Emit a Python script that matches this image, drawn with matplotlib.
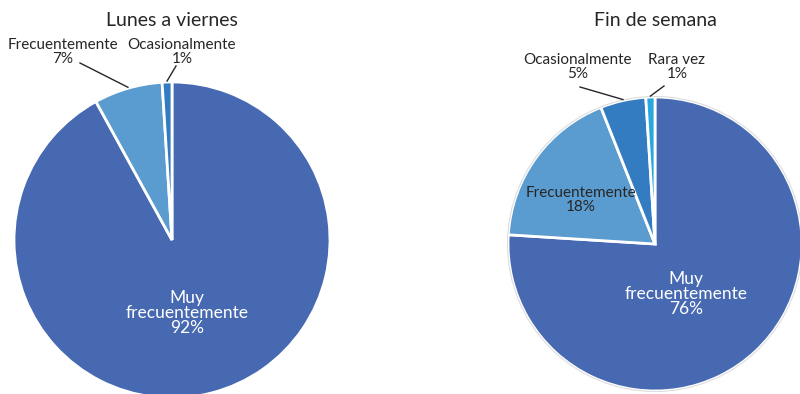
import numpy as np
import matplotlib.pyplot as plt
from matplotlib.patches import Circle

plt.rcParams['font.family'] = ['Lato', 'DejaVu Sans']

# Frecuencia de uso
lv_cats = ['Muy\nfrecuentemente', 'Frecuentemente', 'Ocasionalmente']
lv_vals = [92, 7, 1]
fs_cats = ['Muy\nfrecuentemente', 'Frecuentemente', 'Ocasionalmente', 'Rara vez']
fs_vals = [76, 18, 5, 1]

colores = ['#4769b1', '#5a9bd0', '#347cc2', '#2aa7df']

W, H = 800, 394
fig = plt.figure(figsize=(W / 100, H / 100), dpi=100)
ax = fig.add_axes([0, 0, 1, 1])
ax.set_xlim(0, W)
ax.set_ylim(0, H)
ax.set_aspect('equal')
ax.axis('off')


def tarta(vals, cx, cy, r):
    cy = H - cy
    wedges, _ = ax.pie(vals, center=(cx, cy), radius=r, startangle=90,
                       counterclock=False, colors=colores[:len(vals)],
                       wedgeprops=dict(edgecolor='white', linewidth=2),
                       frame=True)
    return wedges


def borde(w, cx, cy, r):
    # punto medio del arco exterior del sector
    ang = np.deg2rad((w.theta1 + w.theta2) / 2)
    return cx + r * np.cos(ang), (H - cy) + r * np.sin(ang)


def etiqueta(txt, x, y, color='#262626', size=11):
    ax.text(x, H - y, txt, ha='center', va='center', color=color,
            fontsize=size, linespacing=0.92)


# Lunes a viernes
cx1, cy1, r1 = 172, 240, 158
w1 = tarta(lv_vals, cx1, cy1, r1)
etiqueta('Lunes a viernes', cx1, 20, size=14)
etiqueta(f'{lv_cats[0]}\n{lv_vals[0]}%', 187, 313, color='white', size=12.5)
etiqueta(f'{lv_cats[1]}\n{lv_vals[1]}%', 63, 52)
etiqueta(f'{lv_cats[2]}\n{lv_vals[2]}%', 182, 52)
for w, (lx, ly) in zip(w1[1:], [(80, 63), (176, 66)]):
    px, py = borde(w, cx1, cy1, r1 * 1.0)
    ax.plot([lx, px], [H - ly, py + 1], color='#262626', lw=1)

# Fin de semana
cx2, cy2, r2 = 655, 244, 147
w2 = tarta(fs_vals, cx2, cy2, r2)
ax.add_patch(Circle((cx2, H - cy2), r2 + 0.5, fill=False, ec='#dddddd', lw=0.8))
etiqueta('Fin de semana', cx2, 20, size=14)
etiqueta(f'{fs_cats[0]}\n{fs_vals[0]}%', 686, 294, color='white', size=12.5)
etiqueta(f'{fs_cats[1]}\n{fs_vals[1]}%', 581, 200)
etiqueta(f'{fs_cats[2]}\n{fs_vals[2]}%', 578, 67)
etiqueta(f'{fs_cats[3]}\n{fs_vals[3]}%', 677, 67)
for w, (lx, ly) in zip(w2[2:], [(580, 87), (664, 86)]):
    px, py = borde(w, cx2, cy2, r2)
    ax.plot([lx, px], [H - ly, py + 1], color='#262626', lw=1)

ax.set_xlim(0, W)
ax.set_ylim(0, H)
ax.axis('off')

plt.savefig('out.png', dpi=100)
